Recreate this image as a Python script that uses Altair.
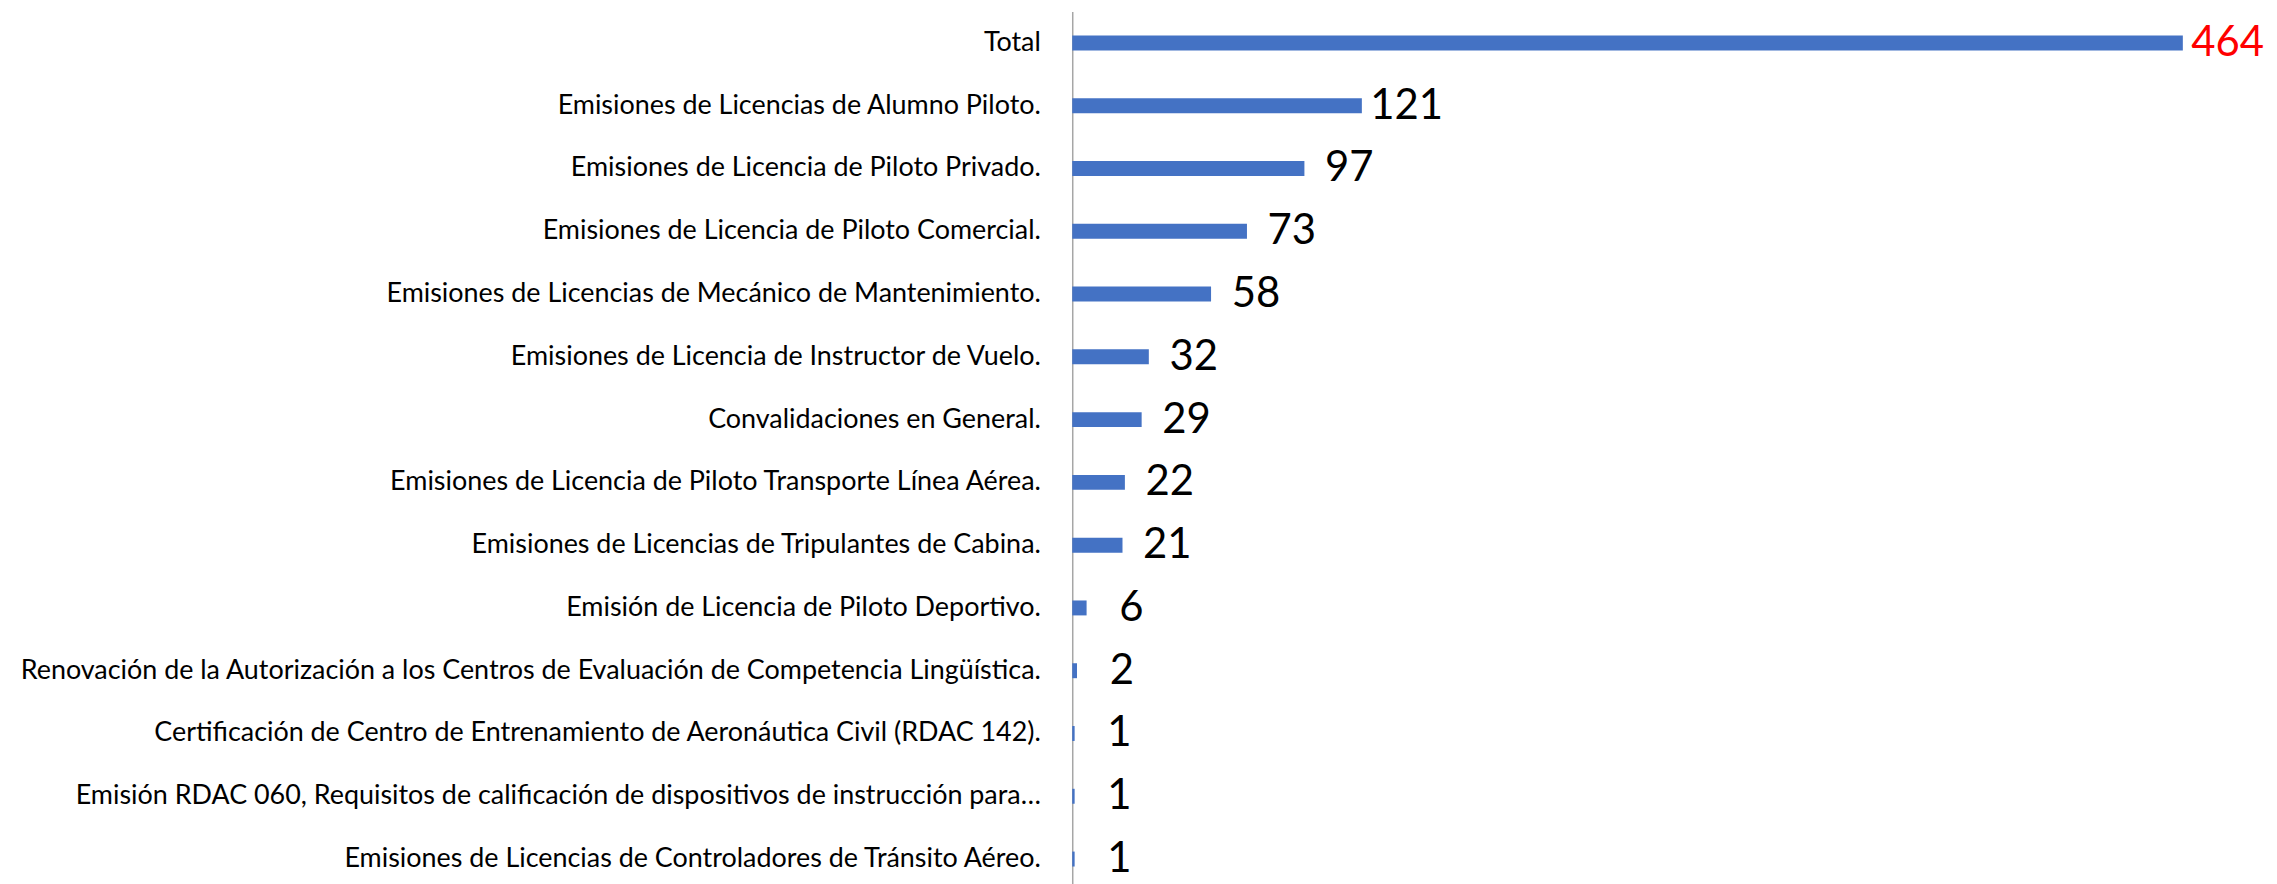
import altair as alt
import pandas as pd

categories = [
    "Total",
    "Emisiones de Licencias de Alumno Piloto.",
    "Emisiones de Licencia de Piloto Privado.",
    "Emisiones de Licencia de Piloto Comercial.",
    "Emisiones de Licencias de Mecánico de Mantenimiento.",
    "Emisiones de Licencia de Instructor de Vuelo.",
    "Convalidaciones en General.",
    "Emisiones de Licencia de Piloto Transporte Línea Aérea.",
    "Emisiones de Licencias de Tripulantes de Cabina.",
    "Emisión de Licencia de Piloto Deportivo.",
    "Renovación de la Autorización a los Centros de Evaluación de Competencia Lingüística.",
    "Certificación de Centro de Entrenamiento de Aeronáutica Civil (RDAC 142).",
    "Emisión RDAC 060, Requisitos de calificación de dispositivos de instrucción para…",
    "Emisiones de Licencias de Controladores de Tránsito Aéreo.",
]
values = [464, 121, 97, 73, 58, 32, 29, 22, 21, 6, 2, 1, 1, 1]

df = pd.DataFrame({"categoria": categories, "valor": values})
df["es_total"] = df["categoria"] == "Total"

FONT = "Lato"

y_enc = alt.Y(
    "categoria:N",
    sort=categories,
    title=None,
    scale=alt.Scale(paddingInner=0, paddingOuter=0),
    axis=alt.Axis(
        domain=True,
        domainColor="#a6a6a6",
        domainWidth=1.5,
        ticks=False,
        grid=False,
        labelFont=FONT,
        labelFontSize=27,
        labelColor="#000000",
        labelPadding=32,
        labelLimit=1200,
    ),
)
x_enc = alt.X("valor:Q", axis=None, scale=alt.Scale(domain=[0, 500], nice=False))

bars = alt.Chart(df).mark_bar(size=15, color="#4472C4").encode(y=y_enc, x=x_enc)

labels = alt.Chart(df).mark_text(
    align="center", baseline="middle", dx=45, font=FONT, fontSize=42
).encode(
    y=alt.Y("categoria:N", sort=categories),
    x=alt.X("valor:Q"),
    text=alt.Text("valor:Q"),
    color=alt.condition("datum.es_total", alt.value("#ff0000"), alt.value("#000000")),
)

chart = (
    alt.layer(bars, labels)
    .properties(
        width=1201,
        height=882,
        autosize=alt.AutoSizeParams(type="none"),
        padding={"left": 1068, "top": 2, "right": 0, "bottom": 0},
    )
    .configure_view(stroke=None)
)

chart.save("out.html", embed_options={"renderer": "svg", "actions": False})
